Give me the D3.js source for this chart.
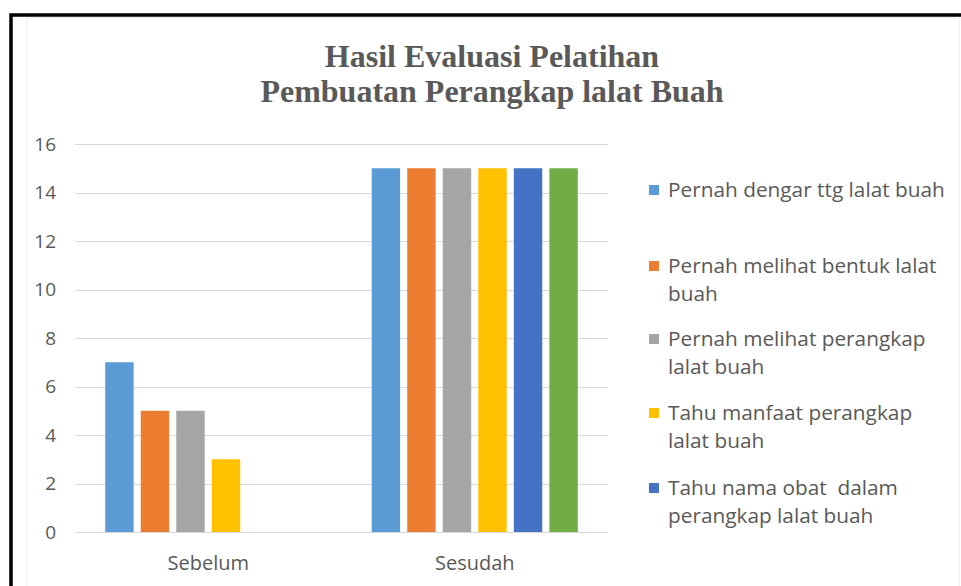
<!DOCTYPE html>
<html>
<head>
<meta charset="utf-8">
<script src="https://cdn.jsdelivr.net/npm/d3@7"></script>
<style>
  html, body { margin: 0; padding: 0; background: #fff; }
  svg { display: block; }
</style>
</head>
<body>
<svg id="chart" width="961" height="586"></svg>
<script>
// ---- data ----
const categories = ["Sebelum", "Sesudah"];
const seriesNames = [
  "Pernah dengar ttg lalat buah",
  "Pernah melihat bentuk lalat buah",
  "Pernah melihat perangkap lalat buah",
  "Tahu manfaat perangkap lalat buah",
  "Tahu nama obat  dalam perangkap lalat buah",
  "Seri 6"
];
const sebelumValues = [7, 5, 5, 3, 0, 0];
const sesudahValues = [15, 15, 15, 15, 15, 15];
const seriesColors = ["#5B9BD5", "#ED7D31", "#A5A5A5", "#FFC000", "#4472C4", "#70AD47"];
const yTicks = [0, 2, 4, 6, 8, 10, 12, 14, 16];
const titleLines = ["Hasil Evaluasi Pelatihan", "Pembuatan Perangkap lalat Buah"];
// legend text as wrapped in the picture (the 6th entry is cut off there)
const legendLines = [
  ["Pernah dengar ttg lalat buah"],
  ["Pernah melihat bentuk lalat", "buah"],
  ["Pernah melihat perangkap", "lalat buah"],
  ["Tahu manfaat perangkap", "lalat buah"],
  ["Tahu nama obat  dalam", "perangkap lalat buah"]
];

const valuesByCategory = [sebelumValues, sesudahValues];
const table = categories.map((c, i) => ({
  category: c,
  values: seriesNames.map((s, j) => ({ series: s, idx: j, value: valuesByCategory[i][j] }))
}));

// ---- layout ----
const svg = d3.select("#chart");
const textColor = "#595959";
const bodyFont = "'Open Sans', Lato, sans-serif";

// outer frame (black border on top/left)
svg.append("rect")
  .attr("x", 11).attr("y", 15)
  .attr("width", 1100).attr("height", 700)
  .attr("fill", "#fff")
  .attr("stroke", "#000").attr("stroke-width", 3.5);
// chart area faint border
svg.append("rect")
  .attr("x", 26.5).attr("y", 17.5)
  .attr("width", 933).attr("height", 600)
  .attr("fill", "none")
  .attr("stroke", "#efefef").attr("stroke-width", 1);

const plot = { left: 75, right: 608, top: 144, bottom: 532 };

const y = d3.scaleLinear().domain([0, 16]).range([plot.bottom, plot.top]);
const x0 = d3.scaleBand().domain(categories)
  .range([plot.left, plot.right]).paddingInner(0.2).paddingOuter(0.1);
const x1 = d3.scaleBand().domain(seriesNames)
  .range([0, x0.bandwidth()]).paddingInner(0.2).paddingOuter(0.1);

// gridlines
svg.append("g")
  .selectAll("line").data(yTicks).join("line")
  .attr("x1", plot.left).attr("x2", plot.right)
  .attr("y1", d => Math.round(y(d)) + 0.5).attr("y2", d => Math.round(y(d)) + 0.5)
  .attr("stroke", "#D9D9D9").attr("stroke-width", 1);

// y axis labels
const yAxis = d3.axisLeft(y).tickValues(yTicks).tickSize(0).tickPadding(0);
const yg = svg.append("g").attr("transform", `translate(56,0)`).call(yAxis);
yg.select(".domain").remove();
yg.selectAll("text")
  .attr("fill", textColor)
  .style("font-family", bodyFont)
  .style("font-size", "19px");

// x axis labels
const xAxis = d3.axisBottom(x0).tickSize(0).tickPadding(0);
const xg = svg.append("g").attr("transform", `translate(0,${plot.bottom})`).call(xAxis);
xg.select(".domain").remove();
xg.selectAll("text")
  .attr("y", 0).attr("dy", 0)
  .attr("transform", "translate(0,38)")
  .attr("fill", textColor)
  .style("font-family", bodyFont)
  .style("font-size", "20px");

// bars
svg.append("g")
  .selectAll("g").data(table).join("g")
  .attr("transform", d => `translate(${x0(d.category)},0)`)
  .selectAll("rect").data(d => d.values).join("rect")
  .attr("x", d => x1(d.series))
  .attr("width", x1.bandwidth())
  .attr("y", d => y(d.value))
  .attr("height", d => y(0) - y(d.value))
  .attr("fill", d => seriesColors[d.idx]);

// title
svg.append("g").selectAll("text").data(titleLines).join("text")
  .attr("x", 492)
  .attr("y", (d, i) => 67 + i * 35)
  .attr("text-anchor", "middle")
  .attr("fill", textColor)
  .style("font-family", "'Liberation Serif', 'Times New Roman', serif")
  .style("font-weight", "bold")
  .style("font-size", "32px")
  .text(d => d);

// legend
const legendBaselines = [197, 273, 346, 420, 495];
const lg = svg.append("g");
legendLines.forEach((lines, i) => {
  const g = lg.append("g").attr("transform", `translate(649,${legendBaselines[i]})`);
  g.append("rect")
    .attr("x", 0).attr("y", -12)
    .attr("width", 10).attr("height", 10)
    .attr("fill", seriesColors[i]);
  g.selectAll("text").data(lines).join("text")
    .attr("x", 19)
    .attr("y", (d, k) => k * 28)
    .attr("fill", textColor)
    .style("font-family", bodyFont)
    .style("font-size", "20.8px")
    .style("white-space", "pre")
    .text(d => d);
});
</script>
</body>
</html>
